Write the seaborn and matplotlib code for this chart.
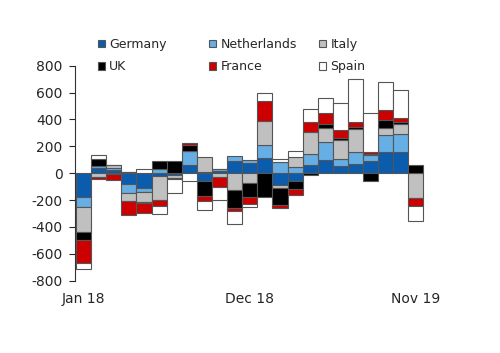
import numpy as np
import matplotlib
matplotlib.use("Agg")
import matplotlib.pyplot as plt
import seaborn as sns
from matplotlib.patches import Patch

# monthly data, Jan 18 .. Nov 19
months = ["Jan 18", "Feb 18", "Mar 18", "Apr 18", "May 18", "Jun 18", "Jul 18", "Aug 18",
          "Sep 18", "Oct 18", "Nov 18", "Dec 18", "Jan 19", "Feb 19", "Mar 19", "Apr 19",
          "May 19", "Jun 19", "Jul 19", "Aug 19", "Sep 19", "Oct 19", "Nov 19"]
tick_labels = ["Jan 18", "Dec 18", "Nov 19"]

germany = [-181, 42, 20, -82, -107, -20, -15, 62, -55, 15, 87, 75, 112, -87, -62, 62, 99, 50, 67, 87, 154, 161, 0]
netherlands = [-69, 8, 17, -67, -37, 30, 0, 104, 10, 15, 37, 20, 94, 80, 45, 80, 131, 55, 94, 50, 129, 131, 0]
italy = [-186, -30, 20, -57, -74, -180, -22, 0, 112, -25, -124, -70, 179, -25, 75, 162, 104, 144, 166, 5, 52, 72, -186]
uk = [-64, 52, -7, 12, -5, 57, 87, 45, -114, 0, -136, -104, -174, -125, -57, -15, 32, 10, 15, -62, 62, 15, 64]
france = [-169, -15, -45, -104, -70, -42, -8, 12, -37, -75, -25, -55, 149, -25, -42, 75, 79, 60, 42, 12, 74, 30, -55]
spain = [-45, 35, 0, 0, 30, -62, -100, -57, -72, -100, -94, -20, 62, 27, 42, 99, 112, 203, 315, 293, 211, 211, -114]

series = {"Germany": germany, "Netherlands": netherlands, "Italy": italy,
          "UK": uk, "France": france, "Spain": spain}
colors = {"Germany": "#0b5cad", "Netherlands": "#66aee3", "Italy": "#c0c0c0",
          "UK": "#000000", "France": "#cc0000", "Spain": "#ffffff"}

sns.set_style("white")
plt.rcParams["font.family"] = ["DejaVu Sans"]
plt.rcParams["axes.unicode_minus"] = False

fig = plt.figure(figsize=(5, 3.53), dpi=100)
ax = fig.add_axes([0.15, 0.205, 0.70, 0.609])

# stacked bars, positives up from zero and negatives down from zero
x = np.arange(len(months))
pos = np.zeros(len(months))
neg = np.zeros(len(months))
for name, vals in series.items():
    v = np.array(vals, dtype=float)
    bottom = np.where(v >= 0, pos, neg)
    ax.bar(x, v, width=1.0, bottom=bottom, color=colors[name],
           edgecolor="#555555", linewidth=0.8)
    pos += np.where(v >= 0, v, 0)
    neg += np.where(v < 0, v, 0)

ax.set_ylim(-800, 800)
ax.set_xlim(-0.57, 22.6)
ax.set_yticks(range(-800, 801, 200))
ax.set_xticks([0, 11, 22])
ax.set_xticklabels(tick_labels)
ax.tick_params(axis="y", direction="out", length=4, width=0.8, labelsize=10, pad=5, left=True)
ax.tick_params(axis="x", length=0, labelsize=10, pad=8)

sns.despine(ax=ax, top=True, right=True, bottom=True)
ax.spines["left"].set_color("#333333")
ax.spines["left"].set_linewidth(0.8)

# legend: three columns placed separately
columns = [["Germany", "UK"], ["Netherlands", "France"], ["Italy", "Spain"]]
col_x = [0.196, 0.418, 0.638]
for names, cx in zip(columns, col_x):
    handles = [Patch(facecolor=colors[n], edgecolor="#555555", linewidth=0.8, label=n) for n in names]
    fig.legend(handles=handles, loc="center left", bbox_to_anchor=(cx, 0.842),
               frameon=False, fontsize=9, handlelength=0.55, handleheight=0.55,
               handletextpad=0.35, labelspacing=0.75, borderpad=0, borderaxespad=0)

fig.savefig("out.png", dpi=100)
